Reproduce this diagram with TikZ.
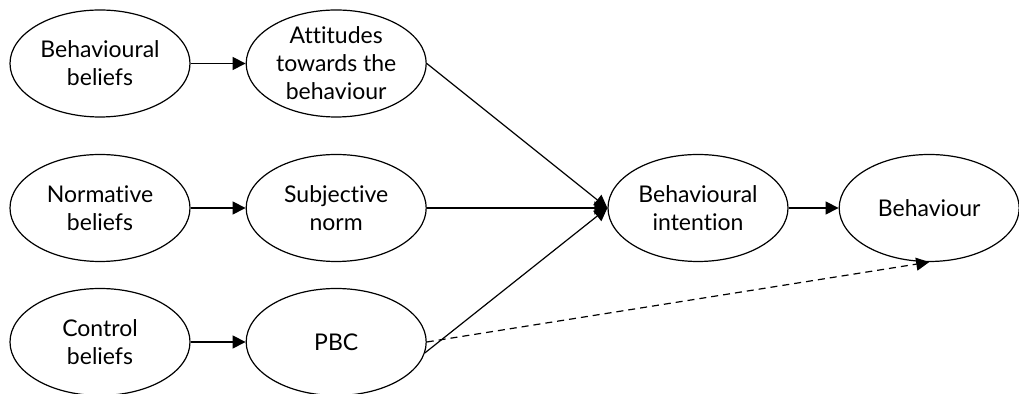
\documentclass[tikz,border=0pt]{standalone}
\usepackage{fontspec}
\setmainfont[Ligatures=NoCommon]{Lato}
\usetikzlibrary{shapes.geometric, arrows.meta, positioning}

\begin{document}
\begin{tikzpicture}[x=0.5pt, y=-0.5pt,
        oval/.style={ellipse, draw, line width=0.6pt, minimum width=90pt, minimum height=53.5pt, inner sep=-4pt, align=center, font=\fontsize{11.5}{14}\selectfont},
        link/.style={-{Triangle[length=6.5pt, width=6.5pt]}, line width=0.6pt},
        hint/.style={link, dash pattern=on 3.5pt off 2.5pt}]
        \useasboundingbox (0,0) rectangle (1019,394);
        \node[oval] (bb) at (100,63.5) {Behavioural\\beliefs};
        \node[oval, right = 27.5pt of bb] (att) {Attitudes\\towards the\\behaviour};
        \node[oval] (nb) at (100,208) {Normative\\beliefs};
        \node[oval, right = 27.5pt of nb] (sn) {Subjective\\norm};
        \node[oval] (cb) at (100,342) {Control\\beliefs};
        \node[oval, right = 27.5pt of cb] (pbc) {PBC};
        \node[oval] (bi) at (698,208) {Behavioural\\intention};
        \node[oval, right = 25pt of bi] (beh) {Behaviour};
        \draw[link] (bb) -- (att);
        \draw[link] (nb) -- (sn);
        \draw[link] (cb) -- (pbc);
        \draw[link] (att.east) -- (bi.west);
        \draw[link] (sn) -- (bi);
        \draw[link] (pbc.-7) -- (bi.west);
        \draw[link] (bi) -- (beh);
        \draw[hint] (pbc.east) -- (beh.south);
    \end{tikzpicture}
\end{document}
